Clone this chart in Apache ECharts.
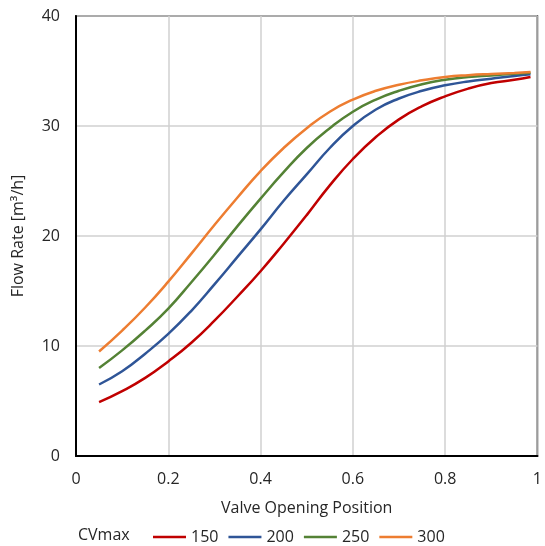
<!DOCTYPE html>
<html>
<head>
<meta charset="utf-8">
<script src="https://cdn.jsdelivr.net/npm/echarts@6/dist/echarts.min.js"></script>
<style>
  html, body { margin: 0; padding: 0; background: #fff; }
  #container { width: 545px; height: 546px; }
</style>
</head>
<body>
<div id="container"></div>
<script>
// valve opening positions
var positions = [0.05, 0.1, 0.15, 0.2, 0.25, 0.3, 0.35, 0.4, 0.45, 0.5, 0.55, 0.6, 0.65, 0.7, 0.75, 0.8, 0.85, 0.9, 0.95, 0.985];
// flow rate per CVmax
var cv150 = [4.9, 5.9, 7.1, 8.6, 10.3, 12.3, 14.5, 16.8, 19.3, 21.9, 24.6, 27.0, 29.0, 30.6, 31.8, 32.7, 33.4, 33.9, 34.2, 34.45];
var cv200 = [6.5, 7.7, 9.3, 11.1, 13.2, 15.6, 18.1, 20.6, 23.2, 25.6, 28.0, 30.0, 31.5, 32.5, 33.2, 33.7, 34.05, 34.3, 34.55, 34.7];
var cv250 = [8.0, 9.6, 11.4, 13.4, 15.8, 18.3, 20.9, 23.4, 25.8, 28.0, 29.8, 31.3, 32.4, 33.2, 33.8, 34.2, 34.45, 34.6, 34.75, 34.85];
var cv300 = [9.5, 11.4, 13.5, 15.85, 18.4, 21.0, 23.5, 25.9, 28.0, 29.8, 31.3, 32.4, 33.2, 33.75, 34.15, 34.45, 34.62, 34.73, 34.82, 34.9];
var seriesNames = ['150', '200', '250', '300'];
var seriesColors = ['#C00000', '#2F5597', '#548235', '#ED7D31'];

var fontFam = 'Open Sans';
var txtColor = '#262626';
var fs = 16;

function pairs(vals) {
  return positions.map(function (x, i) { return [x, vals[i]]; });
}

var allVals = [cv150, cv200, cv250, cv300];
var series = allVals.map(function (v, i) {
  return {
    name: seriesNames[i],
    type: 'line',
    smooth: 0.5,
    symbol: 'none',
    data: pairs(v),
    lineStyle: { width: 2.5, color: seriesColors[i] },
    itemStyle: { color: seriesColors[i] }
  };
});

var chart = echarts.init(document.getElementById('container'));
var option = {
  backgroundColor: '#fff',
  animation: false,
  grid: {
    show: true,
    left: 76,
    right: 5,
    top: 16,
    bottom: 90,
    borderColor: '#000',
    borderWidth: 1.5
  },
  xAxis: {
    type: 'value',
    min: 0,
    max: 1,
    interval: 0.2,
    name: 'Valve Opening Position',
    nameLocation: 'middle',
    nameGap: 44,
    nameTextStyle: { fontFamily: fontFam, fontSize: fs, color: txtColor },
    axisLine: { show: true, lineStyle: { color: '#000', width: 2 } },
    axisTick: { show: false },
    splitLine: { show: true, lineStyle: { color: '#d0d0d0', width: 1.5 } },
    axisLabel: {
      margin: 15,
      fontFamily: fontFam,
      fontSize: fs,
      color: txtColor,
      formatter: function (v) { return String(Math.round(v * 10) / 10); }
    }
  },
  yAxis: {
    type: 'value',
    min: 0,
    max: 40,
    interval: 10,
    name: 'Flow Rate [m³/h]',
    nameLocation: 'middle',
    nameGap: 50,
    nameRotate: 90,
    nameTextStyle: { fontFamily: fontFam, fontSize: fs, color: txtColor },
    axisLine: { show: true, lineStyle: { color: '#000', width: 2 } },
    axisTick: { show: false },
    splitLine: { show: true, lineStyle: { color: '#d0d0d0', width: 1.5 } },
    axisLabel: { margin: 16, fontFamily: fontFam, fontSize: fs, color: txtColor }
  },
  legend: {
    data: seriesNames,
    icon: 'rect',
    left: 148,
    top: 524,
    itemWidth: 33,
    itemHeight: 2.5,
    itemGap: 10,
    textStyle: { fontFamily: fontFam, fontSize: fs, color: txtColor }
  },
  graphic: [{
    type: 'text',
    left: 78,
    top: 527,
    style: { text: 'CVmax', fontFamily: fontFam, fontSize: fs, fill: txtColor }
  }],
  series: series
};
chart.setOption(option);
</script>
</body>
</html>
